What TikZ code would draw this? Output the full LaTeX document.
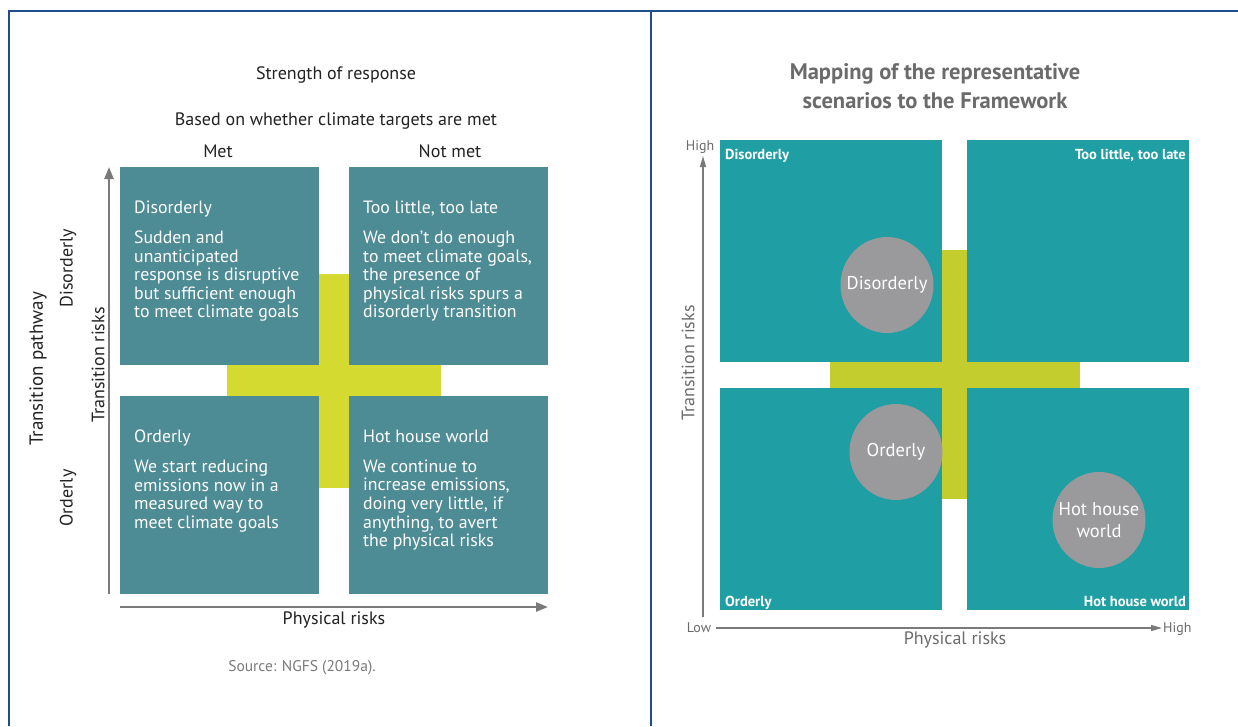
\documentclass[tikz,border=0pt]{standalone}
\usepackage{fontspec}
\setmainfont{PT Sans}
\usetikzlibrary{arrows.meta,calc,shapes.geometric}
\definecolor{frameblue}{HTML}{1F4E8C}
\definecolor{dullteal}{HTML}{4D8B95}
\definecolor{dullyellow}{HTML}{D5DA31}
\definecolor{brightteal}{HTML}{1F9EA4}
\definecolor{limeyellow}{HTML}{C3CD2E}
\definecolor{blobgray}{HTML}{9A9A9C}
\definecolor{axisgray}{HTML}{7A7A7A}
\definecolor{titlegray}{HTML}{6B6B6B}
\definecolor{inkblack}{HTML}{222222}
\newcommand{\px}[2]{\fontsize{#1}{#2}\selectfont}
\tikzset{
  panelline/.style={frameblue, line width=2.5pt},
  quad/.style={fill=dullteal, minimum width=199pt, minimum height=198pt, inner sep=0pt, anchor=north west},
  quadtext/.style={text=white, align=left, anchor=north west, inner sep=0pt, font=\px{17.8}{18.6}},
  rquad/.style={fill=brightteal, minimum width=222pt, minimum height=222pt, inner sep=0pt, anchor=north west},
  cornerlabel/.style={text=white, inner sep=0pt, font=\bfseries\px{14.5}{16}},
  blob/.style={ellipse, fill=blobgray, text=white, minimum width=93pt, minimum height=96pt, inner xsep=-8pt, inner ysep=0pt, align=center, font=\px{18.5}{22}},
  lefttext/.style={text=inkblack, inner sep=0pt, font=\px{18}{20}},
  righttext/.style={text=titlegray, inner sep=0pt, font=\px{18}{20}},
  ticktext/.style={text=titlegray, inner sep=0pt, font=\px{14}{16}},
  axisarrow/.style={axisgray, line width=2.4pt, -{Triangle[length=12pt, width=9pt]}},
  raxisarrow/.style={axisgray, line width=1.3pt, -{Triangle[length=11pt, width=6pt]}},
}
\begin{document}
\begin{tikzpicture}[x=1pt, y=-1pt]
\useasboundingbox (0,0) rectangle (1238,726);
\fill[white] (0,0) rectangle (1238,726);

% frame
\draw[panelline] (9,726) -- (9,11) -- (1238,11);
\draw[panelline] (651,11) -- (651,726);

% left panel
\node[lefttext] (strength) at (336,75) {Strength of response};
\node[lefttext] (based) at (336,121) {Based on whether climate targets are met};
\node[lefttext] (met) at (218,151) {Met};
\node[lefttext] (notmet) at (450,151) {Not met};

\fill[dullyellow] (227,365) rectangle (441,396);
\fill[dullyellow] (319,274) rectangle (349,488);

\node[quad] (b1) at (120,167) {};
\node[quad] (b2) at (349,167) {};
\node[quad] (b3) at (120,396) {};
\node[quad] (b4) at (349,396) {};

\node[quadtext] (t1) at ($(b1.north west)+(14,34)$) {Disorderly\\[11pt]Sudden and\\unanticipated\\response is disruptive\\but sufficient enough\\to meet climate goals};
\node[quadtext] (t2) at ($(b2.north west)+(14,34)$) {Too little, too late\\[11pt]We don’t do enough\\to meet climate goals,\\the presence of\\physical risks spurs a\\disorderly transition};
\node[quadtext] (t3) at ($(b3.north west)+(14,34)$) {Orderly\\[11pt]We start reducing\\emissions now in a\\measured way to\\meet climate goals};
\node[quadtext] (t4) at ($(b4.north west)+(14,34)$) {Hot house world\\[11pt]We continue to\\increase emissions,\\doing very little, if\\anything, to avert\\the physical risks};

\coordinate (lv0) at (109,594);
\coordinate (lv1) at (109,167);
\coordinate (lh0) at (120,607);
\coordinate (lh1) at (548,607);
\draw[axisarrow] (lv0) -- (lv1);
\draw[axisarrow] (lh0) -- (lh1);

\node[lefttext] (lphys) at (334,620) {Physical risks};
\node[lefttext, rotate=90] (ltrans) at (98,365) {Transition risks};
\node[lefttext, rotate=90, font=\px{19}{21}] (lpath) at (38,369) {Transition pathway};
\node[lefttext, rotate=90] (ldis) at (68,268) {Disorderly};
\node[lefttext, rotate=90] (lord) at (68,498) {Orderly};
\node[lefttext, text=axisgray, font=\px{15.5}{18}] (source) at (302,668) {Source: NGFS (2019a).};

% right panel
\node[righttext, font=\bfseries\px{22.5}{29}, align=center] (title) at (935,86) {Mapping of the representative\\scenarios to the Framework};

\fill[limeyellow] (830,362) rectangle (1080,388);
\fill[limeyellow] (942,250) rectangle (967,499);

\node[rquad] (r1) at (720,140) {};
\node[rquad] (r2) at (967,140) {};
\node[rquad] (r3) at (720,388) {};
\node[rquad] (r4) at (967,388) {};

\node[cornerlabel, anchor=base west] (k1) at (725,159) {Disorderly};
\node[cornerlabel, anchor=base east] (k2) at (1186,159) {Too little, too late};
\node[cornerlabel, anchor=base west] (k3) at (725,606) {Orderly};
\node[cornerlabel, anchor=base east] (k4) at (1186,606) {Hot house world};

\node[blob] (c1) at (887,285) {Disorderly};
\node[blob] (c2) at (896,452) {Orderly};
\node[blob] (c3) at (1099,520) {Hot house\\world};

\coordinate (rv0) at (703,617);
\coordinate (rv1) at (703,156);
\coordinate (rh0) at (716,628);
\coordinate (rh1) at (1162,628);
\draw[raxisarrow] (rv0) -- (rv1);
\draw[raxisarrow] (rh0) -- (rh1);

\node[ticktext, anchor=base] (hi1) at (700,150) {High};
\node[ticktext, anchor=base] (lo) at (699,632) {Low};
\node[ticktext, anchor=base west] (hi2) at (1163,632) {High};
\node[righttext] (rphys) at (955,640) {Physical risks};
\node[righttext, rotate=90] (rtrans) at (688,363) {Transition risks};
\end{tikzpicture}
\end{document}
